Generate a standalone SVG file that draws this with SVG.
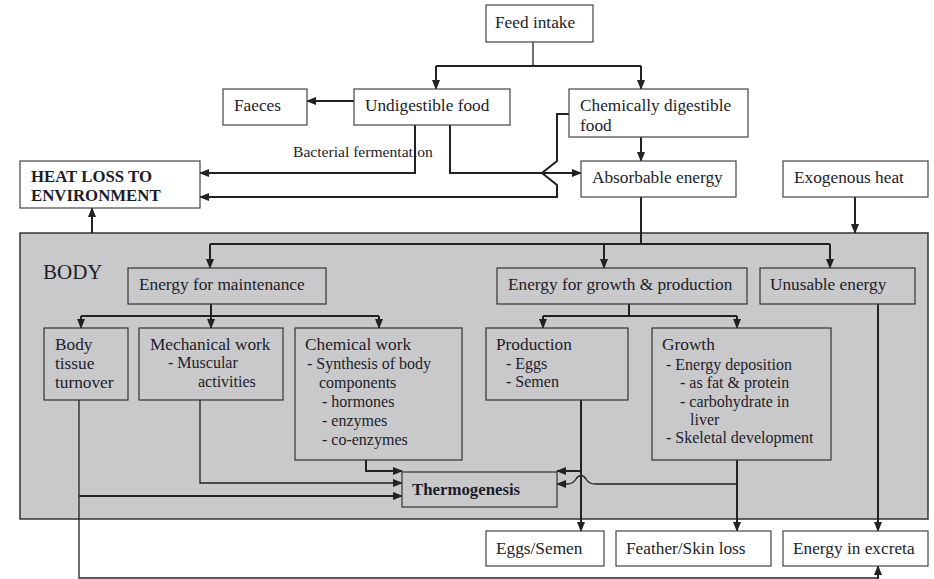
<svg xmlns="http://www.w3.org/2000/svg" width="934" height="579" viewBox="0 0 934 579">
<defs>
<marker id="ah" markerWidth="10" markerHeight="8" refX="9" refY="4" orient="auto" markerUnits="userSpaceOnUse">
<path d="M0,0 L10,4 L0,8 Z" fill="#222"/>
</marker>
<style>
.t{font-family:"Liberation Serif","Times New Roman",serif;font-size:17.3px;fill:#1c1c2a}
.s{font-size:16px}
.b{font-weight:bold}
.box{fill:#fff;stroke:#444;stroke-width:1.2}
.ibox{fill:#c9c9cb;stroke:#333;stroke-width:1.2}
.c{fill:none;stroke:#222;stroke-width:2}
.cn{fill:none;stroke:#222;stroke-width:1.3}
</style>
</defs>
<rect width="934" height="579" fill="#fff"/>
<g id="body">
<rect x="20" y="233" width="908" height="286" fill="#c9c9cb" stroke="#333" stroke-width="1.5"/>
<text class="t" x="43" y="279" style="font-size:21px">BODY</text>
</g>
<g id="connectors">
<path class="cn" d="M533,42 V66"/>
<path class="c" d="M436,66 H641"/>
<path class="c" d="M436,66 V89" marker-end="url(#ah)"/>
<path class="c" d="M641,66 V89" marker-end="url(#ah)"/>
<path class="c" d="M354,101 H307" marker-end="url(#ah)"/>
<path class="c" d="M415,125 V173 H200" marker-end="url(#ah)"/>
<path class="c" d="M450,125 V173 H581" marker-end="url(#ah)"/>
<path class="c" d="M569,114 H557 V161 L542,173 L557,185 V197 H200" marker-end="url(#ah)"/>
<path class="c" d="M641,137 V161" marker-end="url(#ah)"/>
<path class="c" d="M855,197 V233" marker-end="url(#ah)"/>
<path class="c" d="M92,233 V208" marker-end="url(#ah)"/>
<path class="c" d="M641,197 V244"/>
<path class="c" d="M210,244 H830"/>
<path class="c" d="M210,244 V268" marker-end="url(#ah)"/>
<path class="c" d="M604,244 V268" marker-end="url(#ah)"/>
<path class="c" d="M830,244 V268" marker-end="url(#ah)"/>
<path class="c" d="M211,304 V316"/>
<path class="c" d="M81,316 H379"/>
<path class="c" d="M81,316 V328" marker-end="url(#ah)"/>
<path class="c" d="M211,316 V328" marker-end="url(#ah)"/>
<path class="c" d="M379,316 V328" marker-end="url(#ah)"/>
<path class="c" d="M629,304 V316"/>
<path class="c" d="M543,316 H737"/>
<path class="c" d="M543,316 V328" marker-end="url(#ah)"/>
<path class="c" d="M737,316 V328" marker-end="url(#ah)"/>
<path class="c" d="M366,460 V471 H402" marker-end="url(#ah)"/>
<path class="cn" d="M200,400 V483 H402" marker-end="url(#ah)"/>
<path class="cn" d="M79,400 V578 H879"/>
<path class="c" d="M79,496 H402" marker-end="url(#ah)"/>
<path class="c" d="M581,400 V531" marker-end="url(#ah)"/>
<path class="c" d="M581,471 H557" marker-end="url(#ah)"/>
<path class="c" d="M737,460 V531" marker-end="url(#ah)"/>
<path class="cn" d="M737,484 H595 Q589,484 586,479 Q581,472 576,479 Q573,484 567,484 H557" marker-end="url(#ah)"/>
<path class="c" d="M878,304 V531" marker-end="url(#ah)"/>
<path class="c" d="M878,579 V566" marker-end="url(#ah)"/>
</g>
<g id="feed-intake"><rect class="box" x="486" y="5" width="107" height="37"/><text class="t" x="495" y="28">Feed intake</text></g>
<g id="faeces"><rect class="box" x="223" y="89" width="84" height="36"/><text class="t" x="234" y="111">Faeces</text></g>
<g id="undigestible"><rect class="box" x="354" y="89" width="156" height="36"/><text class="t" x="365" y="111">Undigestible food</text></g>
<g id="chem-digestible"><rect class="box" x="569" y="89" width="179" height="48"/><text class="t" x="580" y="111">Chemically digestible</text><text class="t" x="580" y="131">food</text></g>
<g id="bact-label"><text class="t" x="293" y="157" style="font-size:15.6px">Bacterial fermentation</text></g>
<g id="heat-loss"><rect class="box" x="20" y="161" width="180" height="47"/><text class="t b" x="31" y="182" style="font-size:16.8px">HEAT LOSS TO</text><text class="t b" x="31" y="201" style="font-size:16.8px">ENVIRONMENT</text></g>
<g id="absorbable"><rect class="box" x="581" y="161" width="155" height="36"/><text class="t" x="592" y="183">Absorbable energy</text></g>
<g id="exogenous"><rect class="box" x="783" y="161" width="145" height="36"/><text class="t" x="794" y="183">Exogenous heat</text></g>
<g id="maintenance"><rect class="ibox" x="128" y="268" width="198" height="36"/><text class="t" x="139" y="290">Energy for maintenance</text></g>
<g id="growth-production"><rect class="ibox" x="497" y="268" width="250" height="36"/><text class="t" x="508" y="290">Energy for growth &amp; production</text></g>
<g id="unusable"><rect class="ibox" x="760" y="268" width="155" height="36"/><text class="t" x="770" y="290">Unusable energy</text></g>
<g id="tissue-turnover"><rect class="ibox" x="44" y="328" width="84" height="72"/><text class="t" x="55" y="350">Body</text><text class="t" x="55" y="369">tissue</text><text class="t" x="55" y="388">turnover</text></g>
<g id="mechanical"><rect class="ibox" x="139" y="328" width="144" height="72"/><text class="t" x="150" y="350">Mechanical work</text><text class="t s" x="168" y="368">- Muscular</text><text class="t s" x="198" y="387">activities</text></g>
<g id="chemical"><rect class="ibox" x="295" y="328" width="167" height="132"/><text class="t" x="305" y="350">Chemical work</text><text class="t s" x="307" y="369">- Synthesis of body</text><text class="t s" x="319" y="388">components</text><text class="t s" x="322" y="407">- hormones</text><text class="t s" x="322" y="426">- enzymes</text><text class="t s" x="322" y="445">- co-enzymes</text></g>
<g id="production"><rect class="ibox" x="486" y="328" width="142" height="72"/><text class="t" x="496" y="350">Production</text><text class="t s" x="506" y="369">- Eggs</text><text class="t s" x="506" y="387">- Semen</text></g>
<g id="growth"><rect class="ibox" x="652" y="328" width="179" height="132"/><text class="t" x="662" y="350">Growth</text><text class="t s" x="666" y="370">- Energy deposition</text><text class="t s" x="680" y="388">- as fat &amp; protein</text><text class="t s" x="680" y="407">- carbohydrate in</text><text class="t s" x="690" y="425">liver</text><text class="t s" x="666" y="443">- Skeletal development</text></g>
<g id="thermogenesis"><rect class="ibox" x="402" y="472" width="155" height="35"/><text class="t b" x="412" y="495" style="font-size:16.8px">Thermogenesis</text></g>
<g id="eggs-semen"><rect class="box" x="486" y="531" width="118" height="35"/><text class="t" x="496" y="554">Eggs/Semen</text></g>
<g id="feather"><rect class="box" x="616" y="531" width="155" height="35"/><text class="t" x="626" y="554">Feather/Skin loss</text></g>
<g id="excreta"><rect class="box" x="783" y="531" width="145" height="35"/><text class="t" x="793" y="554">Energy in excreta</text></g>
</svg>
